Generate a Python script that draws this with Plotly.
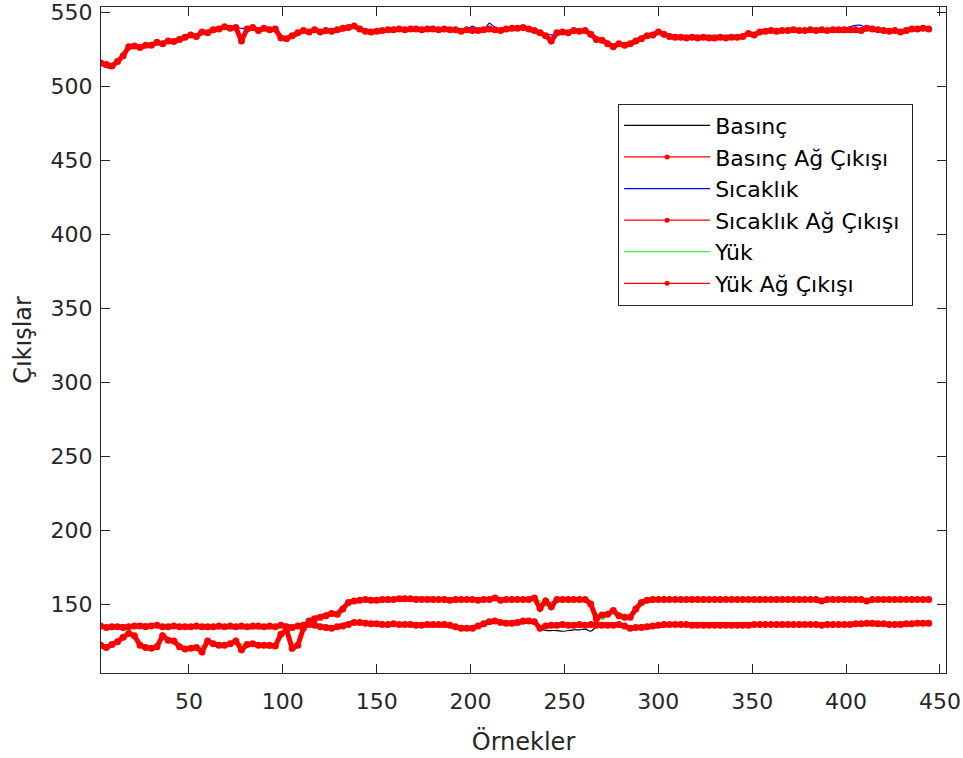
import plotly.graph_objects as go

# ---- data (sampled every 3rd sample, x = 3, 6, ..., 444) ----
sicaklik = [
    515, 513, 512.5, 516, 522, 527, 528, 527, 527.5, 529,
    529, 530, 530.5, 531, 532, 533, 534, 535.5, 536.5, 537,
    538.5, 539.5, 540, 540.5, 540, 539.5, 539.5, 539.5, 539, 539,
    539.5, 538, 535, 533.5, 533.5, 535, 537, 537.5, 538, 537.5,
    537.5, 537, 538, 539, 540, 541.5, 540, 537.5, 536, 537,
    537.5, 538.5, 539, 538.5, 539, 539, 538.5, 539, 539, 539,
    538.5, 538.5, 539, 538.5, 538, 538.5, 541, 539, 538, 543,
    540, 538, 538.5, 539.5, 540, 540, 539.5, 538.5, 537, 535.5,
    535, 535.5, 537, 537.5, 537, 537.5, 538, 536, 532.5, 531,
    530, 528.5, 528, 528.5, 528.5, 530.5, 533, 534, 535, 537.5,
    536, 534.5, 533.5, 533, 533, 533.5, 533, 533, 533, 533,
    533, 533, 533, 533.5, 534, 535, 536, 537, 537.5, 538,
    538, 538, 537.5, 538, 538, 538, 538, 538.5, 538.5, 538.5,
    538.5, 539, 539, 540.5, 541.5, 541.5, 540, 539, 539, 538.5,
    538, 537.5, 537.5, 538, 539, 539.5, 539, 537.5,
]
sicaklik_ag = [
    516, 515, 514, 517, 521, 527, 527.5, 526.5, 528, 528,
    530, 529, 531, 530.5, 532, 533.5, 535, 534, 537, 536.5,
    538.5, 539, 540.5, 539.5, 540, 531, 539, 540, 538, 539.5,
    538.5, 539, 533, 532.5, 534.5, 536.5, 538, 537, 538.5, 537,
    538, 537.5, 538.5, 539.5, 540, 541, 539, 537.5, 537, 537.5,
    538, 538.5, 538.5, 539, 538.5, 539, 539, 538.5, 539, 539,
    538.5, 539, 538.5, 538.5, 537.5, 538.5, 538, 538, 538.5, 539,
    538.5, 538, 539, 539.5, 539.5, 540, 539, 538, 536.5, 534.5,
    531, 536.5, 537, 536.5, 538, 537.5, 538, 535.5, 532, 531.5,
    529, 527, 529, 528, 529, 531, 532.5, 534.5, 535, 537,
    535.5, 534, 533.5, 533.5, 533, 533.5, 533, 533.5, 533, 533,
    533.5, 533, 533.5, 533.5, 534, 536, 535, 537, 537.5, 538,
    537.5, 538, 538, 538.5, 538, 538, 538.5, 538, 538.5, 538,
    538.5, 538.5, 538.5, 538.5, 538.5, 538, 539.5, 539, 538.5, 538,
    537.5, 538, 537, 538, 539, 539, 539.5, 539,
]
basinc = [
    135, 134.5, 134.5, 135, 135, 135, 135, 135.5, 135.5, 135.5,
    135.5, 135, 135, 135, 135, 135, 135, 135, 135, 135,
    135.2, 135.2, 135.2, 135.2, 135.2, 135.2, 135.3, 135.3, 135.3, 135.3,
    135.3, 135.3, 135.5, 135.5, 135.5, 136, 136.5, 136.5, 136, 135.5,
    134.5, 134, 134.5, 135.5, 136.5, 138, 138.5, 137.5, 137, 137,
    136.5, 136.5, 136.5, 136.5, 136.5, 136.5, 136, 136, 136.5, 136.5,
    136.5, 136.5, 136, 135, 134, 133.5, 134, 135.5, 136.5, 138.5,
    139, 138, 137.5, 137.5, 138, 139, 139, 138.5, 134, 132.5,
    132.5, 132.5, 132, 132.5, 133, 133, 133.5, 132, 135, 136,
    136, 136, 136, 135.5, 133, 134, 134.5, 135, 135.5, 136,
    136.5, 136.5, 136.5, 136.5, 136.3, 136.3, 136.2, 136.2, 136, 136,
    136, 136, 136, 136, 136, 136, 136.3, 136.5, 136.5, 136.8,
    137, 136.5, 136.5, 136.5, 136.5, 136.5, 136.5, 136.3, 136.3, 136.5,
    136.5, 136.5, 136.5, 136.5, 136.8, 137, 137, 137.5, 137, 137,
    136.5, 136.5, 136.5, 137, 137, 137.5, 137.5, 137.2,
]
basinc_ag = [
    135.5, 134.5, 135, 135, 134.5, 135, 135.5, 135.5, 135, 135.5,
    136, 135, 135, 135.5, 135, 135, 135, 135.5, 135, 135,
    135, 135.5, 135, 135.5, 135, 135.5, 135, 135.5, 135.5, 135,
    135.5, 135, 136, 135, 134.5, 135.5, 136, 136.5, 136, 135,
    134.5, 134, 135, 135.5, 136.5, 138, 138, 137.5, 137, 137,
    136.5, 136.5, 137, 136.5, 136.5, 136.5, 136, 136, 136.5, 136.5,
    136.5, 136.5, 136, 135, 134, 134, 134, 135.5, 137, 138.5,
    139, 138, 137.5, 137.5, 138, 139, 139, 138.5, 134, 135.5,
    136, 136, 136.5, 136, 136, 136.5, 136, 136.5, 136, 136,
    136, 136, 136.5, 135.5, 134, 134.5, 134.5, 135, 135.5, 136,
    136.5, 136.5, 136.5, 136.5, 136.5, 136, 136, 136, 136, 136,
    136, 136, 136, 136, 136, 136, 136.5, 136.5, 136.5, 136.5,
    136.5, 136.5, 136.5, 136.5, 136.5, 136.5, 136.5, 136.5, 136, 136.5,
    136.5, 136.5, 136.5, 136.5, 137, 137, 137.5, 137.5, 137, 137,
    136.5, 136.5, 136.5, 137, 137, 137.5, 137.5, 137.5,
]
yuk = [
    121, 119.5, 122.5, 124, 128, 130, 128.5, 122, 120.5, 121,
    121, 127.5, 127, 124, 122, 120.5, 119.5, 120, 122, 125.5,
    124.5, 122.5, 122, 123, 125, 123.5, 123, 123, 122.5, 122,
    120.5, 122.5, 130, 131, 120, 122.5, 131, 138.5, 140, 141,
    142.5, 143.5, 144, 146, 151, 152.5, 153, 153, 153, 153,
    153, 153.5, 153.5, 154, 154, 154, 154, 153.5, 153.5, 153.5,
    153.5, 153.5, 153.5, 153, 153.5, 153.5, 153.5, 153, 153, 153.5,
    154.5, 153, 153.5, 153, 153, 153, 153, 154, 152.5, 149,
    152, 152, 152, 152, 152, 152, 152, 152, 144, 140,
    143, 147, 144, 142, 142, 145, 150, 152, 153, 153.5,
    153.5, 153.5, 153.5, 153.8, 153.8, 153.8, 153.8, 153.8, 153.8, 153.8,
    153.8, 153.8, 153.8, 153.8, 153.8, 153.8, 153.8, 153.8, 153.8, 153.8,
    153.8, 153.8, 153.8, 153.8, 153.8, 153.8, 153.8, 153.5, 153.5, 153.5,
    153.8, 153.8, 153.8, 153.8, 153.8, 153.8, 153.8, 153.8, 153.8, 153.8,
    153.8, 153.8, 153.8, 153.8, 153.8, 153.8, 153.8, 153.8,
]
yuk_ag = [
    122.5, 121, 123, 125, 128, 130.5, 129, 122.5, 121, 120.5,
    121.5, 129, 126, 125.5, 121.5, 120, 120.5, 121, 118, 125.5,
    123.5, 122.5, 122.5, 123.5, 125.5, 119.5, 123, 123.5, 122.5, 122.5,
    122.5, 122, 130, 133, 120.5, 122.5, 134, 139, 140.5, 141.5,
    142.5, 144, 143.5, 147, 151.5, 152.5, 153, 153.5, 153, 153,
    153.5, 153.5, 153.5, 154, 154, 154, 153.5, 153.5, 153.5, 153.5,
    153.5, 153.5, 153, 153.5, 153.5, 153.5, 153.5, 153, 153.5, 153.5,
    154.5, 153, 153.5, 153.5, 153.5, 153.5, 153.5, 154.5, 147.5, 152.5,
    148.5, 153.5, 153.5, 153.5, 153.5, 153.5, 153.5, 150.5, 140.5, 143,
    143.5, 146, 142.5, 141.5, 141.5, 147, 151.5, 153, 153.5, 153.5,
    153.5, 153.5, 153.5, 153.5, 153.5, 153.5, 153.5, 153.5, 153.5, 153.5,
    153.5, 153.5, 153.5, 153.5, 153.5, 153.5, 153.5, 153.5, 153.5, 153.5,
    153.5, 153.5, 153.5, 153.5, 153.5, 153.5, 153.5, 153.5, 152.5, 153.5,
    153.5, 153.5, 153.5, 153.5, 153.5, 153.5, 152.5, 153.5, 153.5, 153.5,
    153.5, 153.5, 153.5, 153.5, 153.5, 153.5, 153.5, 153.5,
]

x_ticks = [50, 100, 150, 200, 250, 300, 350, 400, 450]
y_ticks = [150, 200, 250, 300, 350, 400, 450, 500, 550]

FONT = "DejaVu Sans"
AXC = "#262626"


def xs(series):
    return [3 * (i + 1) for i in range(len(series))]


fig = go.Figure()


def actual(y, name, color):
    fig.add_trace(go.Scatter(x=xs(y), y=y, name=name, mode="lines", showlegend=False,
                             line=dict(color=color, width=1.2, shape="spline", smoothing=0.6)))
    # legend entry (thin line)
    fig.add_trace(go.Scatter(x=[None], y=[None], name=name, mode="lines",
                             line=dict(color=color, width=1.2)))


def network(y, name, label=None):
    fig.add_trace(go.Scatter(x=xs(y), y=y, name=name, mode="lines+markers", showlegend=False,
                             line=dict(color="#ff0000", width=5),
                             marker=dict(color="#ff0000", size=7)))
    fig.add_trace(go.Scatter(x=[None], y=[None], name=label or name, mode="lines+markers",
                             line=dict(color="#ff0000", width=1.2),
                             marker=dict(color="#ff0000", size=5)))


actual(basinc, "Basınç", "#000000")
network(basinc_ag, "Basınç Ağ Çıkışı")
actual(sicaklik, "Sıcaklık", "#0000ff")
network(sicaklik_ag, "Sıcaklık Ağ Çıkışı", "Sıcaklık Ağ Çıkışı\u00a0")
actual(yuk, "Yük", "#00ff00")
network(yuk_ag, "Yük Ağ Çıkışı")

axis_common = dict(
    showline=True, linecolor=AXC, linewidth=1.3, mirror="ticks",
    ticks="inside", ticklen=9, tickwidth=1.3, tickcolor=AXC,
    showgrid=False, zeroline=False, automargin=False,
    tickfont=dict(family=FONT, size=22, color=AXC),
)

fig.update_xaxes(range=[3.2, 453.2], tickvals=x_ticks, ticklabelstandoff=8,
                 title=dict(text="Örnekler", font=dict(family=FONT, size=24, color=AXC), standoff=20),
                 **axis_common)
fig.update_yaxes(range=[103.8, 553.9], tickvals=y_ticks, ticklabelstandoff=3,
                 title=dict(text="Çıkışlar", font=dict(family=FONT, size=24, color=AXC), standoff=12),
                 **axis_common)

fig.update_layout(
    width=963, height=758,
    margin=dict(l=101, r=17, t=7, b=85),
    plot_bgcolor="white", paper_bgcolor="white",
    font=dict(family=FONT, color=AXC),
    showlegend=True,
    legend=dict(x=0.612, y=0.855, xanchor="left", yanchor="top",
                bgcolor="white", bordercolor=AXC, borderwidth=1,
                font=dict(family=FONT, size=22, color="black"),
                tracegroupgap=0, itemwidth=86),
)

fig.write_html("out.html", config={"displayModeBar": False})
